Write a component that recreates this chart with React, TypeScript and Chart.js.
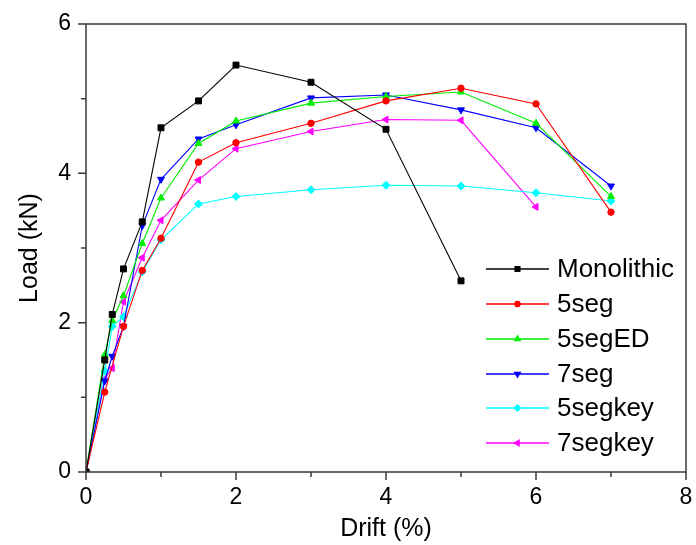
import React, { useEffect, useRef } from "react";
import { Chart, registerables } from "chart.js";
import { drawPoint } from "chart.js/helpers";

Chart.register(...registerables);

const seriesNames = ["Monolithic", "5seg", "5segED", "7seg", "5segkey", "7segkey"];

const monolithicDrift = [0, 0.25, 0.35, 0.5, 0.75, 1, 1.5, 2, 3, 4, 5];
const monolithicLoad = [0, 1.5, 2.11, 2.72, 3.35, 4.61, 4.97, 5.45, 5.22, 4.59, 2.56];

const seg5Drift = [0, 0.25, 0.5, 0.75, 1, 1.5, 2, 3, 4, 5, 6, 7];
const seg5Load = [0, 1.07, 1.95, 2.7, 3.13, 4.15, 4.41, 4.67, 4.97, 5.14, 4.93, 3.48];

const seg5EDDrift = [0, 0.25, 0.35, 0.5, 0.75, 1, 1.5, 2, 3, 4, 5, 6, 7];
const seg5EDLoad = [0, 1.57, 2.03, 2.36, 3.06, 3.67, 4.4, 4.7, 4.94, 5.03, 5.09, 4.67, 3.69];

const seg7Drift = [0, 0.25, 0.35, 0.5, 0.75, 1, 1.5, 2, 3, 4, 5, 6, 7];
const seg7Load = [0, 1.22, 1.55, 1.95, 3.3, 3.92, 4.46, 4.65, 5.01, 5.05, 4.85, 4.61, 3.83];

const seg5keyDrift = [0, 0.25, 0.35, 0.5, 0.75, 1, 1.5, 2, 3, 4, 5, 6, 7];
const seg5keyLoad = [0, 1.35, 1.95, 2.08, 2.68, 3.11, 3.59, 3.69, 3.78, 3.84, 3.83, 3.74, 3.63];

const seg7keyDrift = [0, 0.25, 0.35, 0.5, 0.75, 1, 1.5, 2, 3, 4, 5, 6];
const seg7keyLoad = [0, 1.25, 1.39, 2.28, 2.87, 3.37, 3.91, 4.33, 4.56, 4.72, 4.71, 3.55];

const xMajorTicks = [0, 2, 4, 6, 8];
const xMinorTicks = [1, 3, 5, 7];
const yMajorTicks = [0, 2, 4, 6];
const yMinorTicks = [1, 3, 5];

const FONT = "'Liberation Sans', Arial, sans-serif";
const AXIS_COLOR = "#3a3a3a";

const seriesStyles = [
  { color: "#000000", pointStyle: "rect", radius: 4.2, rotation: 0 },
  { color: "#ff0000", pointStyle: "circle", radius: 3.2, rotation: 0 },
  { color: "#00ee00", pointStyle: "triangle", radius: 4, rotation: 0 },
  { color: "#0000ff", pointStyle: "triangle", radius: 4, rotation: 180 },
  { color: "#00ffff", pointStyle: "rectRot", radius: 4, rotation: 0 },
  { color: "#ff00ff", pointStyle: "triangle", radius: 4, rotation: 270 },
];

const seriesData = [
  [monolithicDrift, monolithicLoad],
  [seg5Drift, seg5Load],
  [seg5EDDrift, seg5EDLoad],
  [seg7Drift, seg7Load],
  [seg5keyDrift, seg5keyLoad],
  [seg7keyDrift, seg7keyLoad],
];

const framePlugin = {
  id: "frameAndTicks",
  afterDraw(chart: any) {
    const { ctx, chartArea } = chart;
    const xs = chart.scales.x;
    const ys = chart.scales.y;
    ctx.save();
    ctx.strokeStyle = AXIS_COLOR;
    ctx.lineWidth = 1.5;
    ctx.strokeRect(chartArea.left, chartArea.top, chartArea.right - chartArea.left, chartArea.bottom - chartArea.top);
    ctx.beginPath();
    const tick = (vals: number[], len: number) => {
      vals.forEach((v) => {
        const px = xs.getPixelForValue(v);
        ctx.moveTo(px, chartArea.bottom);
        ctx.lineTo(px, chartArea.bottom + len);
      });
    };
    const ytick = (vals: number[], len: number) => {
      vals.forEach((v) => {
        const py = ys.getPixelForValue(v);
        ctx.moveTo(chartArea.left, py);
        ctx.lineTo(chartArea.left - len, py);
      });
    };
    tick(xMajorTicks, 8);
    tick(xMinorTicks, 5);
    ytick(yMajorTicks, 8);
    ytick(yMinorTicks, 5);
    ctx.stroke();

    // legend
    const rows = [269, 304, 339, 374, 408, 443];
    chart.data.datasets.forEach((ds: any, i: number) => {
      const y = rows[i];
      const st = seriesStyles[i];
      ctx.strokeStyle = st.color;
      ctx.lineWidth = 1.3;
      ctx.beginPath();
      ctx.moveTo(486, y);
      ctx.lineTo(549, y);
      ctx.stroke();
      ctx.fillStyle = st.color;
      drawPoint(ctx, { pointStyle: st.pointStyle, radius: st.radius * 0.8, rotation: st.rotation, borderWidth: 1 } as any, 517.5, y);
      ctx.fill();
      ctx.fillStyle = "#000";
      ctx.font = `26px ${FONT}`;
      ctx.textBaseline = "middle";
      ctx.textAlign = "left";
      ctx.fillText(ds.label, 557, y + 1);
    });
    ctx.restore();
  },
};

export default function App() {
  const ref = useRef<HTMLCanvasElement | null>(null);
  useEffect(() => {
    if (!ref.current) return;
    const datasets = seriesNames.map((name, i) => {
      const [xs, ys] = seriesData[i];
      const st = seriesStyles[i];
      return {
        label: name,
        data: xs.map((x, j) => ({ x, y: ys[j] })),
        borderColor: st.color,
        backgroundColor: st.color,
        borderWidth: 1.1,
        pointStyle: st.pointStyle,
        pointRadius: st.radius,
        pointRotation: st.rotation,
        pointBorderWidth: 1,
        pointBackgroundColor: st.color,
        pointBorderColor: st.color,
        showLine: true,
        tension: 0,
      };
    });
    const chart = new Chart(ref.current, {
      type: "scatter",
      data: { datasets },
      options: {
        animation: false,
        responsive: false,
        devicePixelRatio: 1,
        layout: { padding: { top: 24, right: 10, left: 0, bottom: 0 } },
        plugins: { legend: { display: false }, tooltip: { enabled: false } },
        scales: {
          x: {
            type: "linear",
            min: 0,
            max: 8,
            afterFit: (s: any) => {
              s.height = 73;
              s.paddingLeft = 0;
              s.paddingRight = 0;
            },
            grid: { display: false, drawTicks: false },
            border: { display: false },
            ticks: {
              stepSize: 2,
              padding: 12,
              color: "#000",
              font: { family: FONT, size: 23 },
              maxRotation: 0,
            },
            title: {
              display: true,
              text: "Drift (%)",
              color: "#000",
              font: { family: FONT, size: 25 },
              padding: { top: 0, bottom: 1 },
            },
          },
          y: {
            type: "linear",
            min: 0,
            max: 6,
            afterFit: (s: any) => {
              s.width = 86;
              s.paddingTop = 0;
              s.paddingBottom = 0;
            },
            grid: { display: false, drawTicks: false },
            border: { display: false },
            ticks: {
              stepSize: 2,
              padding: 15,
              color: "#000",
              font: { family: FONT, size: 23 },
            },
            title: {
              display: true,
              text: "Load (kN)",
              color: "#000",
              font: { family: FONT, size: 25 },
              padding: { top: 15, bottom: 0 },
            },
          },
        },
      },
      plugins: [framePlugin],
    });
    return () => chart.destroy();
  }, []);
  return (
    <div style={{ position: "fixed", left: 0, top: 0, width: 696, height: 545, background: "#fff" }}>
      <canvas ref={ref} width={696} height={545} style={{ width: 696, height: 545, display: "block" }} />
    </div>
  );
}
